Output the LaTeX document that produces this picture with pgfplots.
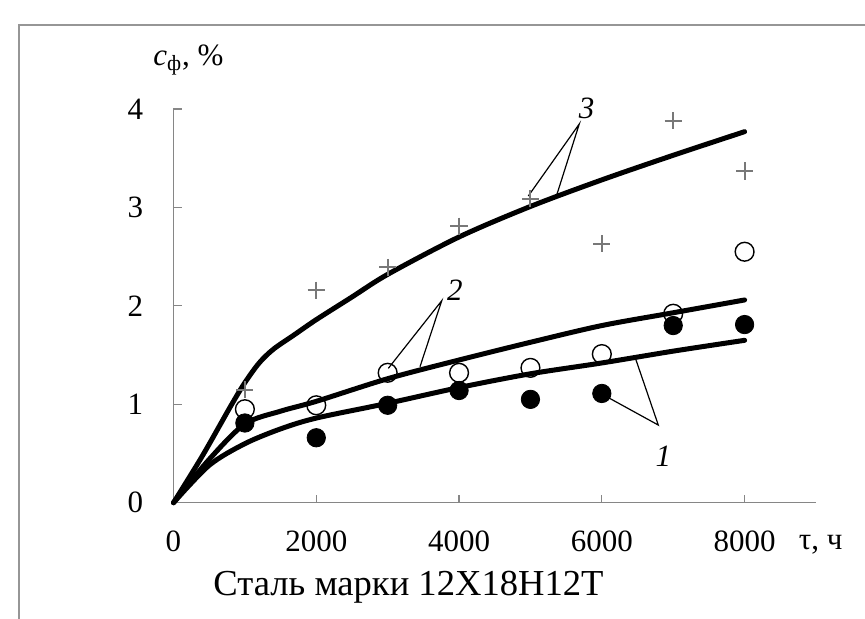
\documentclass[border=0pt]{standalone}
\usepackage{fontspec}
\setmainfont{Liberation Serif}
\usepackage{pgfplots}
\pgfplotsset{compat=1.18}
\definecolor{AxisGray}{RGB}{134,134,134}
\definecolor{FrameGray}{RGB}{150,150,150}
\definecolor{CrossGray}{RGB}{120,120,120}
\newcommand{\chartfont}{\fontsize{15.5}{18}\selectfont}

\begin{document}
\begin{tikzpicture}
% 1 px of the reference = 0.5pt
\useasboundingbox (-86.75pt,-57.65pt) rectangle (345.75pt,251.35pt);
\draw[FrameGray, line width=0.8pt] (-77.25pt,-60pt) -- (-77.25pt,238.85pt) -- (350pt,238.85pt);

\begin{axis}[
    at={(0pt,0pt)},
    anchor=south west,
    scale only axis,
    width=321.25pt,
    height=196.85pt,
    xmin=0, xmax=9000,
    ymin=0, ymax=4,
    axis lines=left,
    axis line style={AxisGray, line width=0.6pt, -},
    xtick={0,2000,4000,6000,8000},
    ytick={0,1,2,3,4},
    tick align=inside,
    major tick length=4pt,
    tick style={AxisGray, line width=0.6pt},
    tick label style={font=\chartfont, inner sep=0pt},
    xticklabel style={anchor=north, yshift=-14pt},
    yticklabel style={anchor=east, xshift=-15pt},
    /pgf/number format/1000 sep={},
    /pgf/number format/assume math mode=true,
    clip=false
]
% curve 1
\addplot[black, line width=2.5pt, smooth, tension=0.5, line cap=round] coordinates {
    (0,0) (500,0.38) (1000,0.60) (1500,0.75) (2000,0.86) (3000,1.01)
    (4000,1.17) (5000,1.31) (6000,1.42) (7000,1.54) (8000,1.65)
};
% curve 2
\addplot[black, line width=2.5pt, smooth, tension=0.5, line cap=round] coordinates {
    (0,0) (500,0.44) (1000,0.80) (1500,0.93) (2000,1.03) (3000,1.26)
    (4000,1.45) (5000,1.63) (6000,1.80) (7000,1.93) (8000,2.06)
};
% curve 3
\addplot[black, line width=2.5pt, smooth, tension=0.5, line cap=round] coordinates {
    (0,0) (400,0.47) (800,0.98) (1000,1.22) (1200,1.42) (1400,1.56)
    (1700,1.71) (2000,1.86) (2500,2.09) (3000,2.32) (4000,2.70) (5000,3.01)
    (6000,3.28) (7000,3.53) (8000,3.77)
};
% points 1
\addplot[only marks, mark=*, mark size=4.6pt, black] coordinates {
    (1000,0.81) (2000,0.66) (3000,0.99) (4000,1.14) (5000,1.05)
    (6000,1.11) (7000,1.80) (8000,1.81)
};
% points 2
\addplot[only marks, mark=o, mark size=4.7pt, black,
    mark options={fill=white, line width=0.7pt}] coordinates {
    (1000,0.95) (2000,0.99) (3000,1.32) (4000,1.32) (5000,1.37)
    (6000,1.51) (7000,1.92) (8000,2.55)
};
% points 3
\addplot[only marks, mark=+, mark size=4.3pt, CrossGray,
    mark options={line width=1pt}] coordinates {
    (1000,1.15) (2000,2.16) (3000,2.39) (4000,2.81) (5000,3.09)
    (6000,2.63) (7000,3.88) (8000,3.37)
};
% leader lines
\draw[black, line width=0.6pt] (axis cs:4970,3.116) -- (axis cs:5684,3.848) -- (axis cs:5368,3.126);
\draw[black, line width=0.6pt] (axis cs:3009,1.365) -- (axis cs:3757,2.052) -- (axis cs:3453,1.382);
\draw[black, line width=0.6pt] (axis cs:6068,1.077) -- (axis cs:6791,0.789) -- (axis cs:6479,1.450);
\node[font=\chartfont\itshape] at (axis cs:5788,4.007) {3};
\node[font=\chartfont\itshape] at (axis cs:3943,2.161) {2};
\node[font=\chartfont\itshape] at (axis cs:6861,0.467) {1};
\end{axis}

\node[anchor=base west, font=\chartfont, inner sep=0pt] at (-10.25pt,218.85pt)
    {\textit{c}\textsubscript{ф}, \%};
\node[anchor=base, font=\chartfont, inner sep=0pt] at (323.6pt,-23.15pt) {τ, ч};
\node[anchor=base, font=\fontsize{18.3}{21}\selectfont, inner sep=0pt] at (117.5pt,-46.15pt)
    {Сталь марки 12Х18Н12Т};
\end{tikzpicture}
\end{document}
